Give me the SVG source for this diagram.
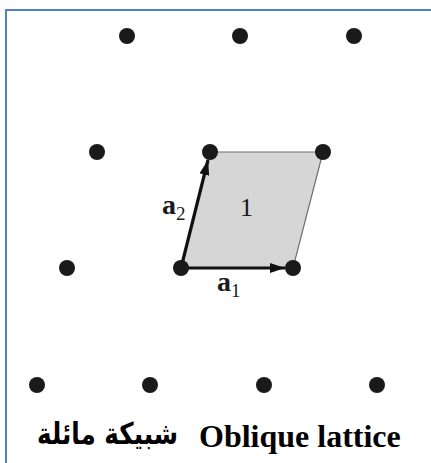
<svg xmlns="http://www.w3.org/2000/svg" width="431" height="463" viewBox="0 0 431 463">
<style>
.dot{fill:#1a1a1a}
.vec{stroke:#111;stroke-width:3.2;fill:none}
.lbl{font-family:"Liberation Serif","Times New Roman",serif;fill:#1a1a1a}
.cap{font-family:"Liberation Serif","Times New Roman",serif;font-weight:bold;font-size:32px;fill:#000}
.ar{font-family:"DejaVu Sans","Noto Sans",sans-serif;font-weight:bold;font-size:30px;fill:#000}
</style>
<defs>
<marker id="ah" viewBox="0 0 15 10" refX="15" refY="5" markerWidth="15" markerHeight="10" markerUnits="userSpaceOnUse" orient="auto">
<path d="M0,0 L15,5 L0,10 Z" fill="#111"/>
</marker>
</defs>
<rect width="431" height="463" fill="#fff"/>
<path d="M6,463 V10 H431" fill="none" stroke="#4f81c4" stroke-width="2"/>
<g id="cell">
<polygon points="181,268 293,268 323,152 210,152" fill="#d6d6d6" stroke="#6e6e6e" stroke-width="1.2"/>
</g>
<g id="connectors">
<line class="vec" x1="181" y1="268" x2="285" y2="268" marker-end="url(#ah)"/>
<line class="vec" x1="181" y1="268" x2="208" y2="160" marker-end="url(#ah)"/>
</g>
<g id="lattice">
<circle class="dot" cx="127" cy="36" r="8"/>
<circle class="dot" cx="240" cy="36" r="8"/>
<circle class="dot" cx="354" cy="36" r="8"/>
<circle class="dot" cx="97" cy="152" r="8"/>
<circle class="dot" cx="210" cy="152" r="8"/>
<circle class="dot" cx="323" cy="152" r="8"/>
<circle class="dot" cx="67" cy="268" r="8"/>
<circle class="dot" cx="181" cy="268" r="8"/>
<circle class="dot" cx="293" cy="268" r="8"/>
<circle class="dot" cx="37" cy="385" r="8"/>
<circle class="dot" cx="150" cy="385" r="8"/>
<circle class="dot" cx="264" cy="385" r="8"/>
<circle class="dot" cx="377" cy="385" r="8"/>
</g>
<g id="labels">
<text class="lbl" x="162" y="214" font-size="28" font-weight="bold">a<tspan font-size="19" font-weight="normal" dy="6">2</tspan></text>
<text class="lbl" x="240" y="216" font-size="26">1</text>
<text class="lbl" x="217" y="291" font-size="28" font-weight="bold">a<tspan font-size="19" font-weight="normal" dy="6">1</tspan></text>
</g>
<g id="caption">
<text class="cap" x="199" y="447">Oblique lattice</text>
<text class="ar" x="178" y="444" textLength="141" lengthAdjust="spacingAndGlyphs" direction="rtl">شبيكة مائلة</text>
</g>
</svg>
